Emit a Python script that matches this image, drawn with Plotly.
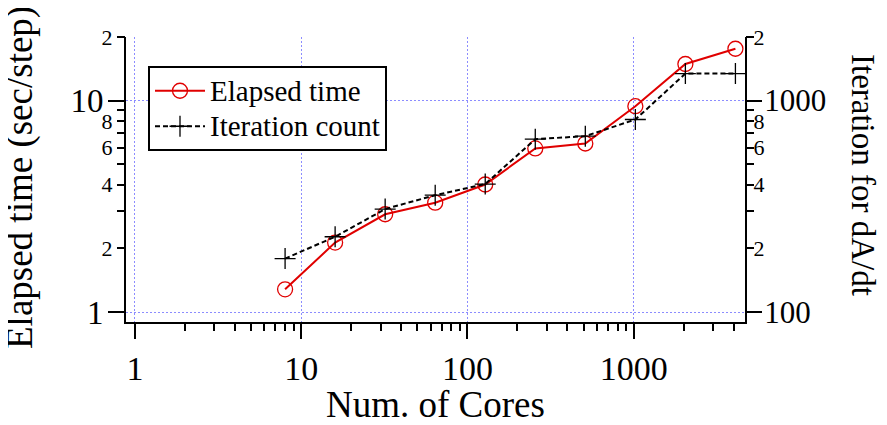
import plotly.graph_objects as go
import math

# ---- data ----
cores = [8, 16, 32, 64, 128, 256, 512, 1024, 2048, 4096]
elapsed_time = [1.28, 2.13, 2.90, 3.29, 4.01, 5.94, 6.27, 9.41, 14.9, 17.6]
iteration_count = [179, 227, 307, 357, 403, 657, 679, 814, 1343, 1343]
series_names = ["Elapsed time", "Iteration count"]

x_major_vals = [1, 10, 100, 1000]
x_major_text = ["1", "10", "100", "1000"]
x_minor_vals = [2, 3, 4, 5, 6, 7, 8, 9, 20, 30, 40, 50, 60, 70, 80, 90,
                200, 300, 400, 500, 600, 700, 800, 900, 2000, 3000, 4000]

yl_major_vals = [1, 10]
yl_major_text = ["1", "10"]
yl_minor_vals = [2, 3, 4, 5, 6, 7, 8, 9, 20]
yl_minor_text = ["2", "", "4", "", "6", "", "8", "", "2"]

yr_major_vals = [100, 1000]
yr_major_text = ["100", "1000"]
yr_minor_vals = [200, 300, 400, 500, 600, 700, 800, 900, 2000]
yr_minor_text = ["2", "", "4", "", "6", "", "8", "", "2"]

FONT = "Liberation Serif"
RED = "#e00000"
GRID = "#8c8cff"

# page body has an 8px margin; work in screen coordinates and subtract it
OFF = 8
W, H = 887 - OFF, 425 - OFF
SL, SR, ST, SB = 126, 745, 37, 322          # plot area on screen
L, T = SL - OFF, ST - OFF
R, B = W - (SR - OFF), H - (SB - OFF)
pw = SR - SL
ph = SB - ST

def px(x):
    return (x - SL) / pw

def py(y):
    return (SB - y) / ph

ylo = -0.0473
yl_range = [ylo, math.log10(20)]
yr_range = [ylo + 2, math.log10(2000)]
x_range = [-0.054, 3.670]

def big(s):
    return '<span style="font-size:29px">' + s + '</span>'

fig = go.Figure()
fig.add_trace(go.Scatter(
    x=cores, y=elapsed_time, name=big(series_names[0]), mode="lines+markers",
    line=dict(color=RED, width=2),
    marker=dict(symbol="circle-open", size=15, color=RED, line=dict(width=1.3, color=RED)),
    xaxis="x", yaxis="y"))
fig.add_trace(go.Scatter(
    x=cores, y=iteration_count, name=big(series_names[1]), mode="lines+markers",
    line=dict(color="black", width=2, dash="5px,3px"),
    marker=dict(symbol="cross-thin", size=15, color="black", line=dict(width=1.3, color="black")),
    xaxis="x", yaxis="y2"))
# invisible helpers so the overlay (minor-label) axes get drawn
fig.add_trace(go.Scatter(x=cores[:1], y=elapsed_time[:1], mode="markers",
                         marker=dict(opacity=0), showlegend=False, hoverinfo="skip",
                         xaxis="x", yaxis="y3"))
fig.add_trace(go.Scatter(x=cores[:1], y=iteration_count[:1], mode="markers",
                         marker=dict(opacity=0), showlegend=False, hoverinfo="skip",
                         xaxis="x", yaxis="y4"))

common_y = dict(type="log", ticks="outside", tickwidth=2, tickcolor="black",
                zeroline=False, automargin=False)

fig.update_layout(
    width=W, height=H,
    margin=dict(l=L, r=R, t=T, b=B, autoexpand=False),
    paper_bgcolor="white", plot_bgcolor="white",
    font=dict(family=FONT, color="black"),
    showlegend=True,
    legend=dict(x=px(148), y=py(66), xanchor="left", yanchor="top",
                bgcolor="white", bordercolor="black", borderwidth=2,
                font=dict(size=25, family=FONT), tracegroupgap=0, itemwidth=50),
    xaxis=dict(type="log", range=x_range, tickvals=x_major_vals, ticktext=x_major_text,
               ticks="outside", ticklen=15, tickwidth=2, tickcolor="black",
               tickfont=dict(size=34, family=FONT), ticklabelstandoff=0,
               showline=True, linewidth=2, linecolor="black", mirror=False,
               showgrid=True, gridcolor=GRID, gridwidth=1, griddash="2px,2px",
               zeroline=False, automargin=False,
               minor=dict(tickvals=x_minor_vals, ticks="outside", ticklen=7,
                          tickwidth=2, tickcolor="black", showgrid=False)),
    yaxis=dict(**common_y, range=yl_range, tickvals=yl_major_vals, ticktext=yl_major_text,
               ticklen=16, tickfont=dict(size=33, family=FONT), ticklabelstandoff=-2,
               showline=True, linewidth=2, linecolor="black", side="left",
               anchor="x", showgrid=True, gridcolor=GRID, gridwidth=1, griddash="2px,2px"),
    yaxis3=dict(**common_y, range=yl_range, tickvals=yl_minor_vals, ticktext=yl_minor_text,
                ticklen=8, tickfont=dict(size=22, family=FONT), ticklabelstandoff=0,
                showline=False, showgrid=False, side="left", overlaying="y", anchor="x"),
    yaxis2=dict(**common_y, range=yr_range, tickvals=yr_major_vals, ticktext=yr_major_text,
                ticklen=15, tickfont=dict(size=31, family=FONT), ticklabelstandoff=-4,
                showline=True, linewidth=2, linecolor="black", side="right",
                showgrid=False, overlaying="y", anchor="x"),
    yaxis4=dict(**common_y, range=yr_range, tickvals=yr_minor_vals, ticktext=yr_minor_text,
                ticklen=8, tickfont=dict(size=22, family=FONT), ticklabelstandoff=-5,
                showline=False, showgrid=False, side="right", overlaying="y", anchor="x"),
)

fig.add_annotation(text="Elapsed time (sec/step)", xref="paper", yref="paper",
                   x=px(20), y=py(178), textangle=-90,
                   showarrow=False, font=dict(size=37, family=FONT),
                   xanchor="center", yanchor="middle")
fig.add_annotation(text="Iteration for dA/dt", xref="paper", yref="paper",
                   x=px(863), y=py(175), textangle=90,
                   showarrow=False, font=dict(size=33, family=FONT),
                   xanchor="center", yanchor="middle")
fig.add_annotation(text="Num. of Cores", xref="paper", yref="paper",
                   x=px(435), y=py(404),
                   showarrow=False, font=dict(size=37, family=FONT),
                   xanchor="center", yanchor="middle")

fig.write_html("out.html")
